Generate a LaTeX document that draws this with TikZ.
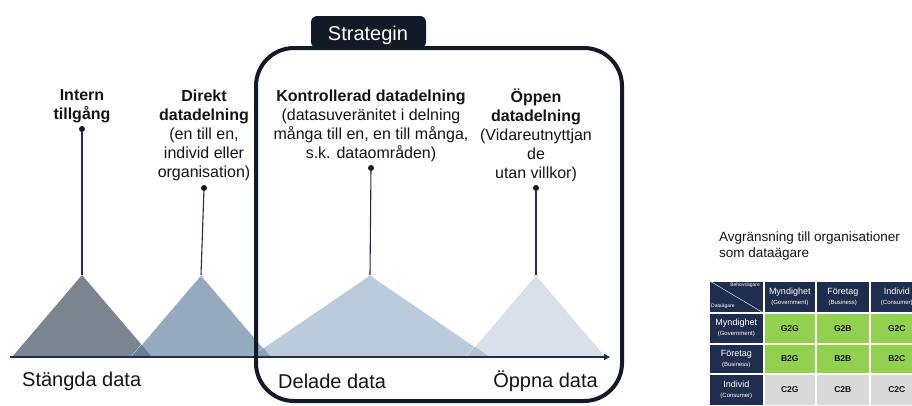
\documentclass[tikz,border=0pt]{standalone}
\usepackage{fontspec}
\setmainfont{Liberation Sans}
\usetikzlibrary{arrows.meta}
\definecolor{navy}{RGB}{18,26,40}
\definecolor{axisc}{RGB}{30,45,72}
\definecolor{tria}{RGB}{123,133,144}
\definecolor{trib}{RGB}{150,170,190}
\definecolor{tric}{RGB}{188,203,219}
\definecolor{trid}{RGB}{216,224,233}
\definecolor{ovab}{RGB}{104,127,151}
\definecolor{ovbc}{RGB}{140,162,184}
\definecolor{ovcd}{RGB}{180,195,210}
\definecolor{tnavy}{RGB}{31,45,78}
\definecolor{tgreen}{RGB}{146,208,80}
\definecolor{tgray}{RGB}{217,217,217}
\definecolor{txt}{RGB}{20,20,20}
\newcommand{\subtxt}[1]{{\fontsize{6}{7}\selectfont #1}}
\begin{document}
\begin{tikzpicture}[x=1pt,y=-1pt,
  lbl/.style={align=center, inner sep=0pt, text=txt, font=\fontsize{16}{19}\selectfont},
  axlbl/.style={inner sep=0pt, text=txt, font=\fontsize{20}{24}\selectfont},
  dotnode/.style={circle, fill=navy, inner sep=0pt, minimum size=6pt},
  stem/.style={draw=axisc, line width=1.1pt},
  tri/.style={draw=white, line width=0.6pt},
  cellbase/.style={draw=white, line width=1.5pt, inner sep=0pt, anchor=north west, align=center},
  hcell/.style={cellbase, fill=tnavy, text=white, font=\fontsize{9}{10}\selectfont},
  gcell/.style={cellbase, fill=tgreen, text=txt, font=\bfseries\fontsize{8.5}{9}\selectfont},
  ccell/.style={cellbase, fill=tgray, text=txt, font=\bfseries\fontsize{8.5}{9}\selectfont},
  sm/.style={font=\fontsize{5}{6}\selectfont}
]
\useasboundingbox (0,0) rectangle (912,405);

% apex coordinates
\coordinate (a1) at (82,275);
\coordinate (a2) at (201,275);
\coordinate (a3) at (370,275);
\coordinate (a4) at (536,275);

% triangles
\fill[tria] (12,357) -- (a1) -- (152,357) -- cycle;
\filldraw[fill=trib, tri] (131,357) -- (a2) -- (271,357) -- cycle;
\begin{scope}
  \clip (12,357) -- (a1) -- (152,357) -- cycle;
  \fill[ovab] (131,357) -- (a2) -- (271,357) -- cycle;
\end{scope}
\filldraw[fill=tric, tri] (250,357) -- (a3) -- (490,357) -- cycle;
\begin{scope}
  \clip (131,357) -- (a2) -- (271,357) -- cycle;
  \fill[ovbc] (250,357) -- (a3) -- (490,357) -- cycle;
\end{scope}
\filldraw[fill=trid, tri] (466,357) -- (a4) -- (606,357) -- cycle;
\begin{scope}
  \clip (250,357) -- (a3) -- (490,357) -- cycle;
  \fill[ovcd] (466,357) -- (a4) -- (606,357) -- cycle;
\end{scope}

% axis
\coordinate (ax0) at (10,357);
\coordinate (ax1) at (610,357);
\draw[axisc, line width=2pt, -{Triangle[length=6pt,width=6pt]}] (ax0) -- (ax1);

% strategy frame
\draw[navy, line width=4pt, rounded corners=38pt] (256,48) rectangle (622,401);
\fill[navy, rounded corners=6pt] (311,48) -- (311,16) -- (426,16) -- (426,48) -- cycle;
\node[inner sep=0pt, text=white, font=\fontsize{20}{24}\selectfont] (strat) at (368,35) {Strategin};

% dots and stems
\node[dotnode] (d1) at (82,129) {};
\node[dotnode] (d2) at (204,188) {};
\node[dotnode] (d3) at (371,168) {};
\node[dotnode] (d4) at (536,188) {};
\draw[stem] (d1) -- (a1);
\draw[stem] (d2) -- (a2);
\draw[stem] (d3) -- (a3);
\draw[stem] (d4) -- (a4);

% labels
\node[lbl] (l1) at (82,106) {\textbf{Intern}\\\textbf{tillgång}};
\node[lbl] (l2) at (204,135) {\textbf{Direkt}\\\textbf{datadelning}\\(en till en,\\individ eller\\organisation)};
\node[lbl] (l3) at (371,126) {\textbf{Kontrollerad datadelning}\\(datasuveränitet i delning\\många till en, en till många,\\s.k. dataområden)};
\node[lbl] (l4) at (536,135) {\textbf{Öppen}\\\textbf{datadelning}\\(Vidareutnyttjan\\de\\utan villkor)};

% axis labels
\node[axlbl, anchor=west] (s1) at (22,381) {Stängda data};
\node[axlbl, anchor=west] (s2) at (278,381) {Delade data};
\node[axlbl, anchor=east] (s3) at (598,381) {Öppna data};

% right side
\node[inner sep=0pt, anchor=north west, align=left, text=txt, font=\fontsize{13.5}{16}\selectfont] (avg) at (719,232) {Avgränsning till organisationer\\som dataägare};

\begin{scope}
\clip (700,270) rectangle (912,405);
% header row
\node[hcell, minimum width=55pt, minimum height=32pt] (c00) at (708,280) {};
\draw[white!85!tnavy, line width=0.5pt] (c00.north west) -- (c00.south east);
\node[text=white, sm, inner sep=0pt, anchor=north east] (beh) at (760,283) {Behovsägare};
\node[text=white, sm, inner sep=0pt, anchor=south west] (dat) at (711,309) {Dataägare};
\node[hcell, minimum width=52pt, minimum height=32pt] (c01) at (763,280) {Myndighet\\\subtxt{(Government)}};
\node[hcell, minimum width=54pt, minimum height=32pt] (c02) at (815,280) {Företag\\\subtxt{(Business)}};
\node[hcell, minimum width=54pt, minimum height=32pt] (c03) at (869,280) {Individ\\\subtxt{(Consumer)}};
% row 1
\node[hcell, minimum width=55pt, minimum height=31pt] (c10) at (708,312) {Myndighet\\\subtxt{(Government)}};
\node[gcell, minimum width=52pt, minimum height=31pt] (c11) at (763,312) {G2G};
\node[gcell, minimum width=54pt, minimum height=31pt] (c12) at (815,312) {G2B};
\node[gcell, minimum width=54pt, minimum height=31pt] (c13) at (869,312) {G2C};
% row 2
\node[hcell, minimum width=55pt, minimum height=30pt] (c20) at (708,343) {Företag\\\subtxt{(Business)}};
\node[gcell, minimum width=52pt, minimum height=30pt] (c21) at (763,343) {B2G};
\node[gcell, minimum width=54pt, minimum height=30pt] (c22) at (815,343) {B2B};
\node[gcell, minimum width=54pt, minimum height=30pt] (c23) at (869,343) {B2C};
% row 3
\node[hcell, minimum width=55pt, minimum height=32pt] (c30) at (708,373) {Individ\\\subtxt{(Consumer)}};
\node[ccell, minimum width=52pt, minimum height=32pt] (c31) at (763,373) {C2G};
\node[ccell, minimum width=54pt, minimum height=32pt] (c32) at (815,373) {C2B};
\node[ccell, minimum width=54pt, minimum height=32pt] (c33) at (869,373) {C2C};
\end{scope}
\end{tikzpicture}
\end{document}
